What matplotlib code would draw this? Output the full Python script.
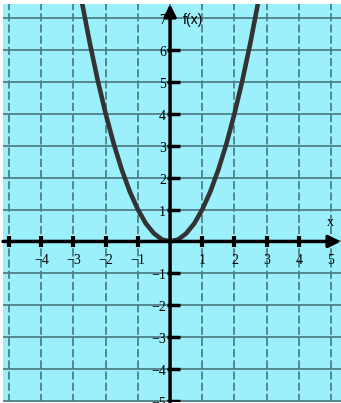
import matplotlib
matplotlib.use('Agg')
import matplotlib.pyplot as plt

# points of f(x) = x^2, read every quarter unit
curve_x = [-2.75, -2.5, -2.25, -2.0, -1.75, -1.5, -1.25, -1.0, -0.75, -0.5, -0.25, 0.0,
           0.25, 0.5, 0.75, 1.0, 1.25, 1.5, 1.75, 2.0, 2.25, 2.5, 2.75]
curve_y = [7.56, 6.25, 5.06, 4.0, 3.06, 2.25, 1.56, 1.0, 0.56, 0.25, 0.06, 0.0,
           0.06, 0.25, 0.56, 1.0, 1.56, 2.25, 3.06, 4.0, 5.06, 6.25, 7.56]

grid_x = [-5, -4, -3, -2, -1, 0, 1, 2, 3, 4, 5]
grid_y = [-5, -4, -3, -2, -1, 0, 1, 2, 3, 4, 5, 6, 7]
xtick_pos = [-5, -4, -3, -2, -1, 1, 2, 3, 4]
xlabel_pos = [-4, -3, -2, -1, 1, 2, 3, 4, 5]
ytick_pos = [-5, -4, -3, -2, -1, 1, 2, 3, 4, 5, 6]
ylabel_pos = [-5, -4, -3, -2, -1, 1, 2, 3, 4, 5, 6, 7]

bg = '#9bf0fc'
gridc = '#4e8088'

fig = plt.figure(figsize=(3.41, 4.03), dpi=100)
fig.patch.set_facecolor('white')
ax = fig.add_axes([3 / 341, 1 / 403, 338 / 341, 398 / 403])
ax.set_xlim(-5.19, 5.31)
ax.set_ylim(-5.03, 7.44)
ax.axis('off')
ax.add_patch(plt.Rectangle((0, 0), 1, 1, transform=ax.transAxes, color=bg, zorder=0))

# grid: solid horizontals, dashed verticals
for gy in grid_y:
    ax.axhline(gy, color=gridc, lw=1.3, zorder=1)
for gx in grid_x:
    ax.axvline(gx, color=gridc, lw=1.3, ls=(0, (4.5, 1.7)), zorder=1)

# axes with arrows
arrow = dict(arrowstyle='-|>', lw=2.5, color='black', mutation_scale=18,
             shrinkA=0, shrinkB=0)
ax.annotate('', xy=(5.31, 0), xytext=(-5.19, 0), arrowprops=arrow,
            annotation_clip=False, zorder=3)
ax.annotate('', xy=(0, 7.44), xytext=(0, -5.03), arrowprops=arrow,
            annotation_clip=False, zorder=3)

# tick bars
ax.vlines(xtick_pos, -0.16, 0.16, color='black', lw=3, zorder=3)
ax.hlines(ytick_pos, -0.1, 0.32, color='black', lw=2.5, zorder=3)

serif = 'Liberation Serif'
for v in xlabel_pos:
    ax.text(v, -0.6, str(v).replace('-', '\u2212'), ha='center', va='center',
            fontsize=10, family=serif, zorder=4)
for v in ylabel_pos:
    ax.text(-0.13, v - 0.08, str(v).replace('-', '\u2212'), ha='right', va='center',
            fontsize=10, family=serif, zorder=4)

ax.text(0.38, 6.93, 'f(x)', ha='left', va='center', fontsize=10,
        family='Liberation Sans', zorder=4)
ax.text(4.98, 0.6, 'x', ha='center', va='center', fontsize=10, family=serif, zorder=4)

ax.plot(curve_x, curve_y, color='#333333', lw=3.3, solid_joinstyle='round', zorder=2)

fig.savefig('out.png', dpi=100, facecolor='white')
